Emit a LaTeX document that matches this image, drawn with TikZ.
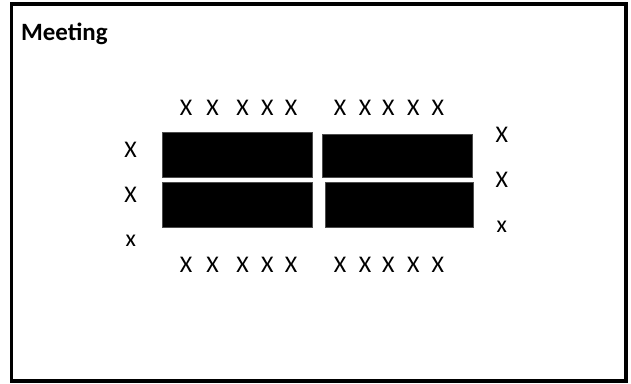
\documentclass[tikz,border=0pt]{standalone}
\usepackage{fontspec}
\setmainfont{Carlito}
\begin{document}
\begin{tikzpicture}[x=1bp,y=-1bp,
  seat/.style={inner sep=0pt,font=\fontsize{24}{28}\selectfont},
  table/.style={fill=black,draw=black!70,line width=0.6bp}]
\useasboundingbox (0,0) rectangle (631,383);
\draw[line width=3.5bp] (11.5,4) rectangle (626,381);
\node[anchor=base west,inner sep=0pt,font=\fontsize{25}{28}\selectfont\bfseries] (title) at (21,40) {Meeting};
% tables
\draw[table] (162.7,132.3) rectangle (312.3,177.3);
\draw[table] (162.7,182.3) rectangle (312.3,227.3);
\draw[table] (322.3,134.3) rectangle (472.3,177.3);
\draw[table] (325,182.3) rectangle (473.3,227.3);
% top and bottom seats
\foreach \x [count=\i] in {186,212.7,242.7,267.3,291,340,365,388.3,413.3,437.7}{
  \node[seat] (t\i) at (\x,108) {X};
  \node[seat] (b\i) at (\x,265) {X};
}
% side seats
\node[seat] (l1) at (130.7,150) {X};
\node[seat] (l2) at (130.7,195) {X};
\node[seat] (l3) at (130.7,241) {x};
\node[seat] (r1) at (501.7,135) {X};
\node[seat] (r2) at (501.7,180) {X};
\node[seat] (r3) at (501.7,227) {x};
\end{tikzpicture}
\end{document}
